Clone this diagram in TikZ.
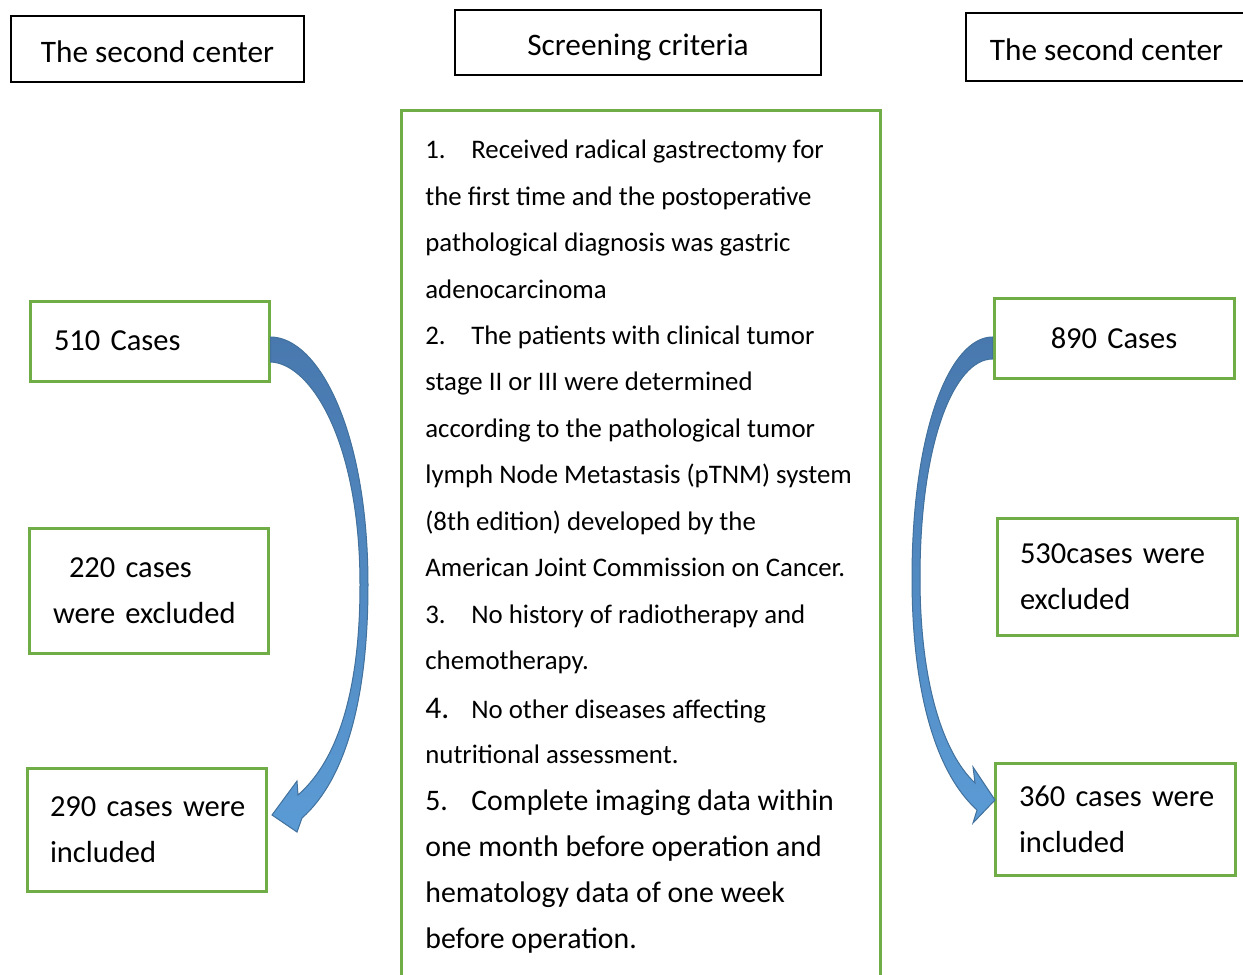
\documentclass[tikz,border=0pt]{standalone}
\usepackage{fontspec}
\setmainfont{Carlito}
\usetikzlibrary{calc}

\tikzset{every picture/.style={line width=0.75pt}}
\tikzset{
  blackbox/.style={draw, line width=1.5pt, inner sep=0pt, text height=26pt, text depth=0pt, font=\fontsize{31.3}{36}\selectfont},
  greenbox/.style={draw={rgb, 255:red, 112; green, 173; blue, 71 }, line width=3pt, inner ysep=0pt, align=left, font=\fontsize{30.5}{46}\selectfont},
  critline/.style={anchor=base west, inner sep=0pt, font=\fontsize{26.8}{30}\selectfont},
  critbig/.style={anchor=base west, inner sep=0pt, font=\fontsize{29.8}{34}\selectfont},
  bluearrow/.style={top color={rgb, 255:red, 72; green, 120; blue, 174 }, middle color={rgb, 255:red, 74; green, 124; blue, 178 }, bottom color={rgb, 255:red, 91; green, 155; blue, 213 }, draw={rgb, 255:red, 65; green, 113; blue, 156 }, line width=1pt}
}
\newcommand{\critnum}[1]{\makebox[46pt][l]{#1}}

\begin{document}
\begin{tikzpicture}[x=1pt,y=1pt,yscale=-1,xscale=1]
	\useasboundingbox (0,0) rectangle (1243,975);

	%Shape: Rectangle [top left]
	\node[blackbox, minimum width=293pt, minimum height=66pt] (left) at (157.5,49) {The second center};
	%Shape: Rectangle [top middle]
	\node[blackbox, minimum width=366pt, minimum height=65pt] (crit) at (638,42.5) {Screening criteria};
	%Shape: Rectangle [top right]
	\node[blackbox, minimum width=281pt, minimum height=68pt] (right) at (1106.5,47) {The second center};

	%Shape: Rectangle [criteria frame]
	\draw [draw={rgb, 255:red, 112; green, 173; blue, 71 }, line width=3pt] (401,1000) -- (401,110) -- (880,110) -- (880,1000) ;

	%Left column
	\node[greenbox, text width=191pt, inner xsep=24pt, minimum height=80pt] (n510) at (149.5,341) {510 Cases};
	\node[greenbox, text width=191pt, inner xsep=24pt, minimum height=125pt] (n220) at (148.5,590.5) {\hspace*{16pt}220 cases\\\mbox{were excluded}};
	\node[greenbox, text width=193pt, inner xsep=23pt, minimum height=123pt] (n290) at (146.5,829.5) {\mbox{290 cases were}\\included};

	%Right column
	\node[greenbox, align=center, text width=192pt, inner xsep=24pt, minimum height=80pt] (n890) at (1114,338) {890 Cases};
	\node[greenbox, text width=194pt, inner xsep=23pt, minimum height=117pt] (n530) at (1117,576.5) {\mbox{530cases were}\\excluded};
	\node[greenbox, text width=192pt, inner xsep=24pt, minimum height=112pt] (n360) at (1115,819) {\mbox{360 cases were}\\included};

	%Shape: Curved Arrow [left]
	\path [bluearrow] ($(n510.east)+(0,-4)$) .. controls (318,337) and (368,430) .. (368,585) .. controls (368,700) and (345,780) .. (302,818) -- (297,832) -- (272,815) -- (297,781) -- (298,795) .. controls (338,760) and (360,690) .. (360,585) .. controls (360,440) and (310,363) .. ($(n510.east)+(0,21)$) -- cycle ;
	%Shape: Curved Arrow [right]
	\path [bluearrow] ($(n890.west)+(0,-1)$) .. controls (950,337) and (912,430) .. (912,578) .. controls (912,690) and (935,772) .. (977,810) -- (973,823) -- (995,800) -- (973,767) -- (975,783) .. controls (942,752) and (920,680) .. (920,578) .. controls (920,440) and (955,359) .. ($(n890.west)+(0,21)$) -- cycle ;

	% Text Node
	\node[critline] (c1) at (425,158) {\critnum{1.}Received radical gastrectomy for};
	% Text Node
	\node[critline] (c2) at (425,205) {the first time and the postoperative};
	% Text Node
	\node[critline] (c3) at (425,251) {pathological diagnosis was gastric};
	% Text Node
	\node[critline] (c4) at (425,298) {adenocarcinoma};
	% Text Node
	\node[critline] (c5) at (425,344) {\critnum{2.}The patients with clinical tumor};
	% Text Node
	\node[critline] (c6) at (425,390) {stage II or III were determined};
	% Text Node
	\node[critline] (c7) at (425,437) {according to the pathological tumor};
	% Text Node
	\node[critline] (c8) at (425,483) {lymph Node Metastasis (pTNM) system};
	% Text Node
	\node[critline] (c9) at (425,530) {(8th edition) developed by the};
	% Text Node
	\node[critline] (c10) at (425,576) {American Joint Commission on Cancer.};
	% Text Node
	\node[critline] (c11) at (425,623) {\critnum{3.}No history of radiotherapy and};
	% Text Node
	\node[critline] (c12) at (425,669) {chemotherapy.};
	% Text Node
	\node[critline] (c13) at (425,718) {\critnum{\fontsize{31.5}{34}\selectfont 4.}No other diseases affecting};
	% Text Node
	\node[critline] (c14) at (425,763) {nutritional assessment.};
	% Text Node
	\node[critbig] (c15) at (425,810) {\critnum{5.}Complete imaging data within};
	% Text Node
	\node[critbig] (c16) at (425,856) {one month before operation and};
	% Text Node
	\node[critbig] (c17) at (425,902) {hematology data of one week};
	% Text Node
	\node[critbig] (c18) at (425,948) {before operation.};

\end{tikzpicture}
\end{document}
